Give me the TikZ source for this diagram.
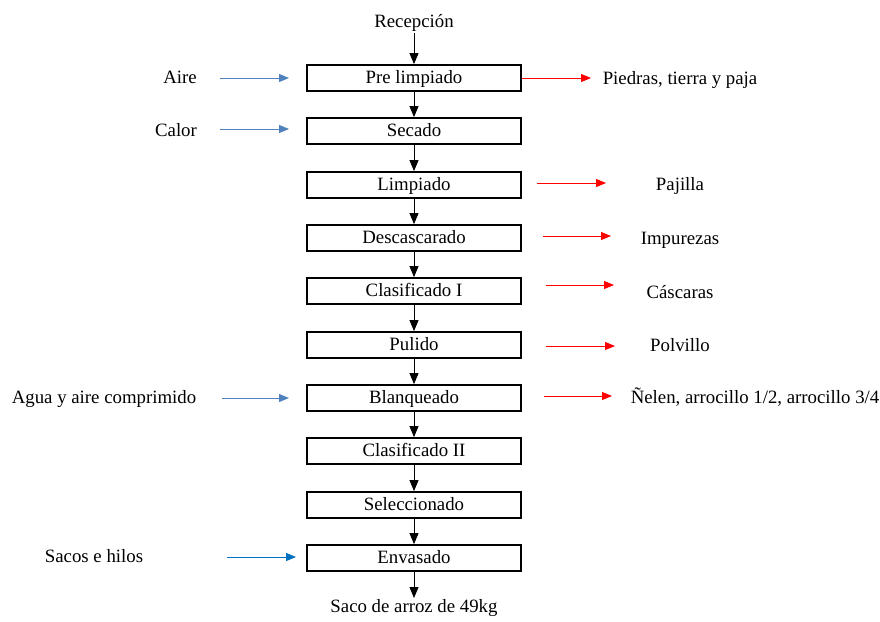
\documentclass[tikz,border=0pt]{standalone}
\usepackage{fontspec}
\setmainfont{Liberation Serif}
\usetikzlibrary{arrows.meta}
\definecolor{inblue}{HTML}{4F81BD}
\definecolor{inblue2}{HTML}{0070C0}
\definecolor{outred}{HTML}{FF0000}
\begin{document}
\begin{tikzpicture}[x=1pt,y=-1pt,
  every node/.style={font=\fontsize{18.8}{22}\selectfont, inner sep=0pt, text height=14pt, text depth=3.4pt},
  stepbox/.style={draw=black, line width=1.8pt, minimum width=214pt, minimum height=26pt},
  flow/.style={-{Triangle[length=11pt,width=9pt]}, line width=0.8pt, black},
  inarr/.style={-{Triangle[length=10pt,width=8pt]}, line width=1pt, inblue},
  outarr/.style={-{Triangle[length=10pt,width=8pt]}, line width=1pt, outred}]
\useasboundingbox (0,0) rectangle (880,621);
% title / end
\node (rec) at (414,22) {Recepción};
\node (saco) at (414,607) {Saco de arroz de 49kg};
% process boxes
\node[stepbox] (b1) at (414,78) {Pre limpiado};
\node[stepbox] (b2) at (414,131) {Secado};
\node[stepbox] (b3) at (414,185) {Limpiado};
\node[stepbox] (b4) at (414,238) {Descascarado};
\node[stepbox] (b5) at (414,291) {Clasificado I};
\node[stepbox] (b6) at (414,345) {Pulido};
\node[stepbox] (b7) at (414,398) {Blanqueado};
\node[stepbox] (b8) at (414,451) {Clasificado II};
\node[stepbox] (b9) at (414,505) {Seleccionado};
\node[stepbox] (b10) at (414,558) {Envasado};
% vertical flow
\draw[flow] (rec.south) ++(0,2) coordinate (r0) (r0) -- (b1.north);
\draw[flow] (b1) -- (b2.north);
\draw[flow] (b2) -- (b3.north);
\draw[flow] (b3) -- (b4.north);
\draw[flow] (b4) -- (b5.north);
\draw[flow] (b5) -- (b6.north);
\draw[flow] (b6) -- (b7.north);
\draw[flow] (b7) -- (b8.north);
\draw[flow] (b8) -- (b9.north);
\draw[flow] (b9) -- (b10.north);
\draw[flow] (b10) -- (414,598) coordinate (s0);
% inputs
\node (aire) at (180,78) {Aire};
\node (calor) at (176,131) {Calor};
\node (agua) at (104,398) {Agua y aire comprimido};
\node (sacos) at (94,557) {Sacos e hilos};
\coordinate (a1s) at (220,78);  \coordinate (a1e) at (289,78);
\coordinate (a2s) at (220,129); \coordinate (a2e) at (289,129);
\coordinate (a3s) at (222,398); \coordinate (a3e) at (289,398);
\coordinate (a4s) at (227,557); \coordinate (a4e) at (296,557);
\draw[inarr] (a1s) -- (a1e);
\draw[inarr] (a2s) -- (a2e);
\draw[inarr] (a3s) -- (a3e);
\draw[inarr, inblue2] (a4s) -- (a4e);
% outputs
\node (o1) at (680,79) {Piedras, tierra y paja};
\node (o2) at (680,185) {Pajilla};
\node (o3) at (680,239) {Impurezas};
\node (o4) at (680,293) {Cáscaras};
\node (o5) at (680,346) {Polvillo};
\node (o6) at (755,398) {Ñelen, arrocillo 1/2, arrocillo 3/4};
\coordinate (e1) at (591,78);
\coordinate (s2) at (537,183); \coordinate (e2) at (606,183);
\coordinate (s3) at (543,236); \coordinate (e3) at (611,236);
\coordinate (s4) at (546,285); \coordinate (e4) at (614,285);
\coordinate (s5) at (546,346); \coordinate (e5) at (615,346);
\coordinate (s6) at (544,396); \coordinate (e6) at (612,396);
\draw[outarr] (b1.east) -- (e1);
\draw[outarr] (s2) -- (e2);
\draw[outarr] (s3) -- (e3);
\draw[outarr] (s4) -- (e4);
\draw[outarr] (s5) -- (e5);
\draw[outarr] (s6) -- (e6);
\end{tikzpicture}
\end{document}
